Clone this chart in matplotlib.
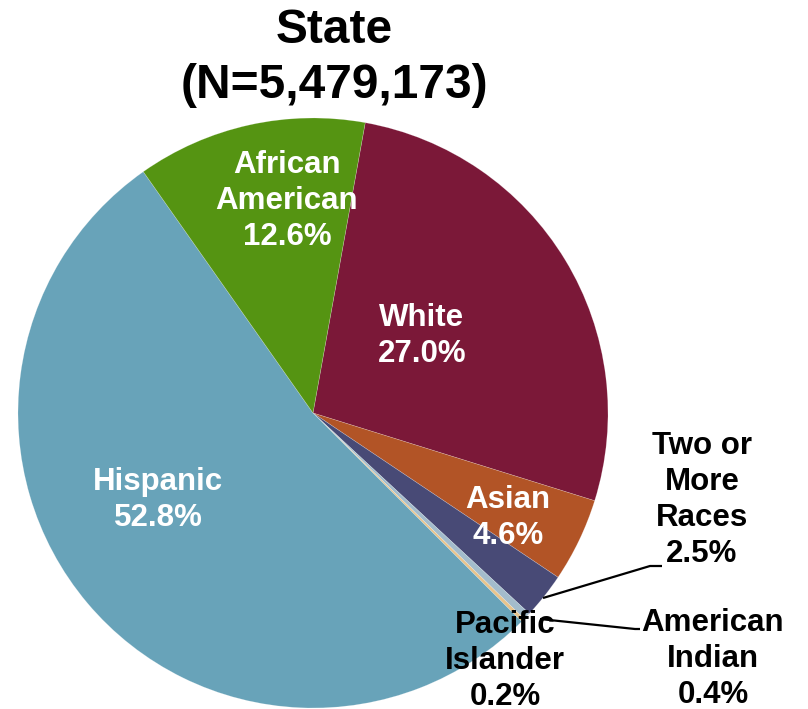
import matplotlib
matplotlib.use("Agg")
import matplotlib.pyplot as plt

categories = ["White", "Asian", "Two or\nMore\nRaces", "American\nIndian", "Pacific\nIslander", "Hispanic", "African\nAmerican"]
values = [27.0, 4.6, 2.5, 0.4, 0.2, 52.8, 12.6]
colors = ["#7B1838", "#B25426", "#484A76", "#A3BCCC", "#E8C48C", "#68A3B9", "#559412"]
title = "State\n(N=5,479,173)"

plt.rcParams['font.family'] = ['Liberation Sans', 'DejaVu Sans']

W, H = 808, 709
fig = plt.figure(figsize=(W / 100, H / 100), dpi=100)
ax = fig.add_axes([0, 0, 1, 1])

cx, cy, r = 313, H - 413, 295
ax.pie(values, colors=colors, startangle=79.8, counterclock=False,
       center=(cx, cy), radius=r, frame=True,
       wedgeprops=dict(linewidth=0.4, edgecolor=(1, 1, 1, 0.3)))
ax.set_xlim(0, W)
ax.set_ylim(0, H)
ax.set_aspect('equal')
ax.axis('off')

fs = 22.5
ls = 1.27
def lab(x, y, s, color):
    ax.text(x, H - y, s, ha='center', va='center', fontsize=fs, fontweight='bold',
            color=color, linespacing=ls)

lab(422, 336, f"{categories[0]}\n{values[0]:.1f}%", 'white')
lab(508, 518, f"{categories[1]}\n{values[1]:.1f}%", 'white')
lab(702, 500, f"{categories[2]}\n{values[2]:.1f}%", 'black')
lab(713, 659, f"{categories[3]}\n{values[3]:.1f}%", 'black')
lab(505, 661, f"{categories[4]}\n{values[4]:.1f}%", 'black')
lab(158, 500, f"{categories[5]}\n{values[5]:.1f}%", 'white')
lab(287, 201, f"{categories[6]}\n{values[6]:.1f}%", 'white')

# leader lines
ax.plot([543, 650, 662], [H - 598, H - 566, H - 566], color='black', lw=1.6, solid_capstyle='butt')
ax.plot([540, 635, 640], [H - 619, H - 629, H - 629], color='black', lw=1.6, solid_capstyle='butt')

ax.text(334, H - 58, title, ha='center', va='center', fontsize=34.5, fontweight='bold',
        color='black', linespacing=1.3)

fig.savefig("out.png", dpi=100)
